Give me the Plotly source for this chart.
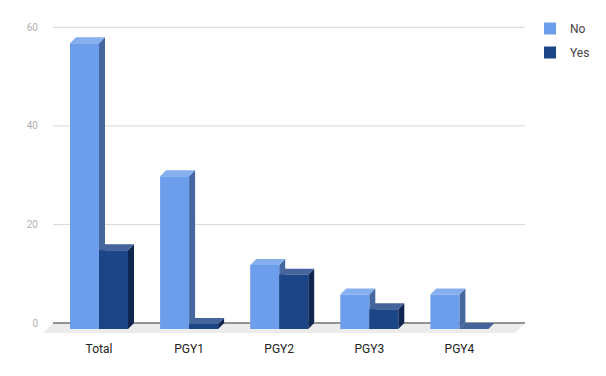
import plotly.graph_objects as go

# ---- data ----
categories = ["Total", "PGY1", "PGY2", "PGY3", "PGY4"]
no_values = [58, 31, 13, 7, 7]
yes_values = [16, 1, 11, 4, 0]
y_ticks = [0, 20, 40, 60]

# ---- styling / geometry (pixel based, converted to data units) ----
W, H = 606, 376
ML, MR, MT, MB = 43, 81, 20, 36
X0_PX = 99.0          # pixel of first category centre (front plane)
CAT_PX = 90.1         # pixels per category
ZERO_PX = 323.0       # pixel of value 0 on back plane
UNIT_PX = 4.928       # pixels per value unit
BAR_PX = 29.0
DEPTH_PX = 6.0
FLOOR_PX = 10.0
BACK_LEFT_PX = 53.0
BACK_RIGHT_PX = 525.0

def px_x(p):
    return (p - X0_PX) / CAT_PX

def px_dy(p):
    return p / UNIT_PX

x_range = [px_x(ML), px_x(W - MR)]
y_range = [(ZERO_PX - (H - MB)) / UNIT_PX, (ZERO_PX - MT) / UNIT_PX]

bw = BAR_PX / CAT_PX
dx = DEPTH_PX / CAT_PX
dy = px_dy(DEPTH_PX)

series = [
    ("No", no_values, -1, "#6d9eeb", "#86aff0", "#45679f"),
    ("Yes", yes_values, 0, "#1c4587", "#44649b", "#0f2650"),
]

fig = go.Figure()

# floor
fx0, fx1 = px_x(BACK_LEFT_PX), px_x(BACK_RIGHT_PX)
fdx = FLOOR_PX / CAT_PX
fdy = px_dy(FLOOR_PX)
fig.add_trace(go.Scatter(
    x=[fx0, fx1, fx1 - fdx, fx0 - fdx, fx0],
    y=[0, 0, -fdy, -fdy, 0],
    fill="toself", fillcolor="#ececec", mode="none",
    hoverinfo="skip", showlegend=False))

# gridlines on back plane
gx, gy = [], []
for t in y_ticks:
    if t == 0:
        continue
    gx += [fx0, fx1, None]
    gy += [t, t, None]
fig.add_trace(go.Scatter(x=gx, y=gy, mode="lines",
                         line=dict(color="#d9d9d9", width=1),
                         hoverinfo="skip", showlegend=False))
fig.add_trace(go.Scatter(x=[fx0, fx1], y=[0, 0], mode="lines",
                         line=dict(color="#333333", width=1),
                         hoverinfo="skip", showlegend=False))

# 3D bars
for name, vals, side, c_front, c_top, c_side in series:
    sx, sy, tx, ty, frx, fry = [], [], [], [], [], []
    for i, v in enumerate(vals):
        x0 = i + side * bw
        x1 = x0 + bw
        # side face
        sx += [x1, x1, x1 + dx, x1 + dx, x1, None]
        sy += [-dy, v - dy, v, 0, -dy, None]
        # top face
        tx += [x0, x1, x1 + dx, x0 + dx, x0, None]
        ty += [v - dy, v - dy, v, v, v - dy, None]
        # front face
        frx += [x0, x1, x1, x0, x0, None]
        fry += [-dy, -dy, v - dy, v - dy, -dy, None]
    fig.add_trace(go.Scatter(x=sx, y=sy, fill="toself", fillcolor=c_side,
                             mode="none", hoverinfo="skip", showlegend=False))
    fig.add_trace(go.Scatter(x=tx, y=ty, fill="toself", fillcolor=c_top,
                             mode="none", hoverinfo="skip", showlegend=False))
    fig.add_trace(go.Scatter(x=frx, y=fry, fill="toself", fillcolor=c_front,
                             mode="none", hoverinfo="skip", showlegend=False,
                             name=name))

# legend entries
for name, vals, side, c_front, c_top, c_side in series:
    fig.add_trace(go.Scatter(x=[None], y=[None], mode="markers", name=name,
                             legendgroup=name,
                             marker=dict(symbol="square", size=12, color=c_front,
                                         line=dict(width=0))))

fig.update_layout(
    width=W, height=H,
    margin=dict(l=ML, r=MR, t=MT, b=MB, autoexpand=False),
    paper_bgcolor="white", plot_bgcolor="white",
    font=dict(family="Roboto", size=12, color="#222222"),
    xaxis=dict(range=x_range, showgrid=False, zeroline=False, showline=False,
               tickmode="array", tickvals=list(range(len(categories))),
               ticktext=categories, ticks="", tickfont=dict(size=12, color="#222222"),
               fixedrange=True),
    yaxis=dict(range=y_range, showgrid=False, zeroline=False, showline=False,
               tickmode="array", tickvals=y_ticks, ticks="",
               tickfont=dict(size=10, color="#b0b0b0"), ticklabelstandoff=4,
               fixedrange=True),
    legend=dict(xref="container", yref="container",
                x=530 / W, xanchor="left", y=1 - 14 / H, yanchor="top",
                font=dict(size=12, color="#444444"), tracegroupgap=5,
                traceorder="grouped", bgcolor="rgba(0,0,0,0)"),
    showlegend=True,
)

fig.write_html("out.html")
